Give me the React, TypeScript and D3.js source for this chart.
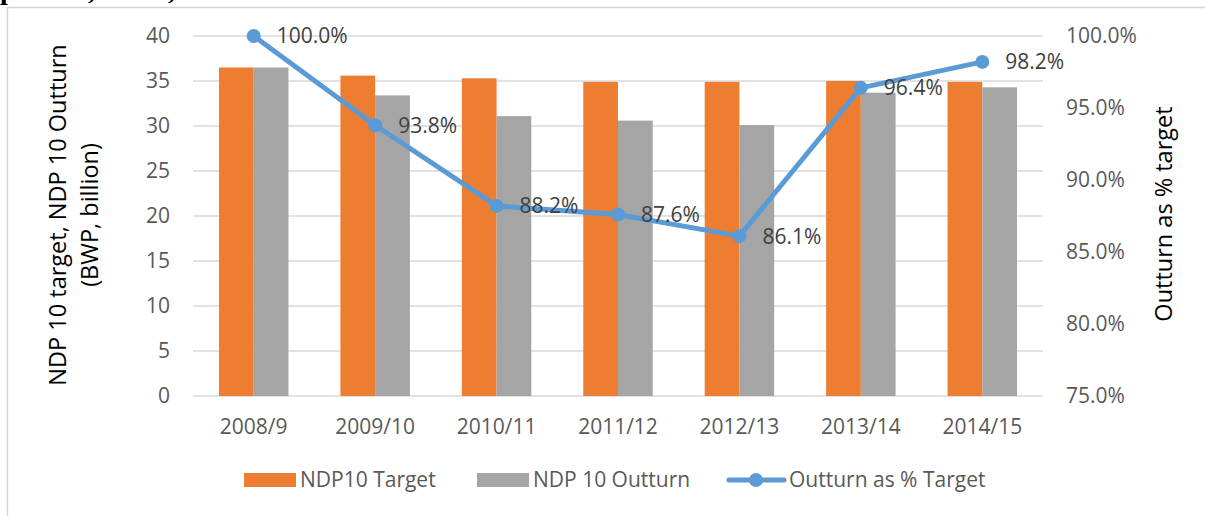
import React from 'react';
import * as d3 from 'd3';

const years = ['2008/9', '2009/10', '2010/11', '2011/12', '2012/13', '2013/14', '2014/15'];
const target = [36.5, 35.6, 35.3, 34.9, 34.9, 35.0, 34.9];
const outturn = [36.5, 33.4, 31.1, 30.6, 30.1, 33.7, 34.3];
const pctOfTarget = [100.0, 93.8, 88.2, 87.6, 86.1, 96.4, 98.2];
const leftTicks = [0, 5, 10, 15, 20, 25, 30, 35, 40];
const rightTicks = [75, 80, 85, 90, 95, 100];

const ORANGE = '#ED7D31';
const GRAY = '#A5A5A5';
const BLUE = '#5B9BD5';
const FONT = '"Open Sans", sans-serif';
const FS = 21;

const App = () => {
  const W = 1205, H = 516;
  const left = 193, right = 1043, top = 36, bottom = 396;

  const x = d3.scaleBand<string>().domain(years).range([left, right]).padding(0);
  const y = d3.scaleLinear().domain([0, 40]).range([bottom, top]);
  const y2 = d3.scaleLinear().domain([75, 100]).range([bottom, top]);
  const bw = x.bandwidth() * 0.286;
  const cx = (d: string) => (x(d) as number) + x.bandwidth() / 2;

  const line = d3.line<number>()
    .x((_, i) => cx(years[i]))
    .y(d => y2(d));

  return (
    <svg width={W} height={H} style={{ position: 'absolute', left: 0, top: 0, background: '#fff' }}>
      {/* clipped caption above the chart */}
      <g fontFamily='"Liberation Serif", serif' fontWeight="bold" fontSize={28} fill="#000">
        <text x={0} y={-1}>p</text>
        <text x={88} y={-1}>,</text>
        <text x={168} y={-1}>,</text>
      </g>
      <path d={`M7.5,${H}V7.5H${W}`} fill="none" stroke="#d4d4d4" strokeWidth={1.5} />

      {/* gridlines */}
      {leftTicks.map(t => (
        <line key={t} x1={left} x2={right} y1={y(t)} y2={y(t)} stroke="#d9d9d9" strokeWidth={1.5} />
      ))}

      {/* bars */}
      {years.map((yr, i) => (
        <g key={yr}>
          <rect x={cx(yr) - bw} y={y(target[i])} width={bw} height={bottom - y(target[i])} fill={ORANGE} />
          <rect x={cx(yr)} y={y(outturn[i])} width={bw} height={bottom - y(outturn[i])} fill={GRAY} />
        </g>
      ))}

      {/* line */}
      <path d={line(pctOfTarget) || ''} fill="none" stroke={BLUE} strokeWidth={5} strokeLinejoin="round" />
      {pctOfTarget.map((p, i) => (
        <circle key={i} cx={cx(years[i])} cy={y2(p)} r={7} fill={BLUE} />
      ))}
      {pctOfTarget.map((p, i) => (
        <text key={'l' + i} x={cx(years[i]) + 23} y={y2(p)} dy="0.35em" fontFamily={FONT} fontSize={FS} fill="#404040">
          {p.toFixed(1)}%
        </text>
      ))}

      {/* left axis labels */}
      {leftTicks.map(t => (
        <text key={t} x={170} y={y(t)} dy="0.35em" textAnchor="end" fontFamily={FONT} fontSize={FS} fill="#595959">{t}</text>
      ))}
      {/* right axis labels */}
      {rightTicks.map(t => (
        <text key={t} x={1066} y={y2(t)} dy="0.35em" fontFamily={FONT} fontSize={FS} fill="#595959">{t.toFixed(1)}%</text>
      ))}
      {/* category labels */}
      {years.map(yr => (
        <text key={yr} x={cx(yr)} y={434} textAnchor="middle" fontFamily={FONT} fontSize={FS} fill="#595959">{yr}</text>
      ))}

      {/* axis titles */}
      <text transform="translate(0,215) rotate(-90)" textAnchor="middle" fontFamily={FONT} fontSize={23.5} fill="#000">
        <tspan x={0} y={66}>NDP 10 target, NDP 10 Outturn</tspan>
        <tspan x={0} y={98}>(BWP, billion)</tspan>
      </text>
      <text transform="translate(1172,214) rotate(-90)" textAnchor="middle" fontFamily={FONT} fontSize={23.5} fill="#000">
        Outturn as % target
      </text>

      {/* legend */}
      <g fontFamily={FONT} fontSize={FS} fill="#595959">
        <rect x={244} y={473} width={52} height={14} fill={ORANGE} />
        <text x={300} y={480} dy="0.35em">NDP10 Target</text>
        <rect x={477} y={473} width={52} height={14} fill={GRAY} />
        <text x={533} y={480} dy="0.35em">NDP 10 Outturn</text>
        <line x1={729} x2={784} y1={480} y2={480} stroke={BLUE} strokeWidth={5} strokeLinecap="round" />
        <circle cx={756} cy={480} r={7} fill={BLUE} />
        <text x={789} y={480} dy="0.35em">Outturn as % Target</text>
      </g>
    </svg>
  );
};

export default App;
